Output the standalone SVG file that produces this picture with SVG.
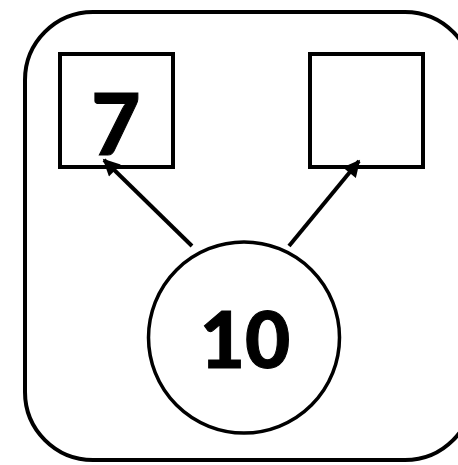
<svg xmlns="http://www.w3.org/2000/svg" width="458" height="465" viewBox="0 0 458 465">
<defs>
<style>
.frame{fill:#fff;stroke:#000;stroke-width:4}
.box{fill:#fff;stroke:#000;stroke-width:4}
.circ{fill:#fff;stroke:#000;stroke-width:3.5}
.lbl{font-family:Lato,"Liberation Sans",sans-serif;font-weight:900;fill:#000;stroke:#000;stroke-width:1;text-anchor:middle}
.edge{stroke:#000;stroke-width:4;fill:none;marker-end:url(#ah)}
</style>
<marker id="ah" viewBox="0 0 10 10" refX="9" refY="5" markerWidth="4.6" markerHeight="4.2" markerUnits="strokeWidth" orient="auto">
<path d="M0,0 L10,5 L0,10 Z" fill="#000"/>
</marker>
</defs>
<rect width="458" height="465" fill="#fff"/>
<rect class="frame" x="25" y="12" width="448" height="448" rx="68" ry="68"/>
<g id="node-left">
<rect class="box" x="60" y="54" width="113" height="113"/>
<text class="lbl" x="116" y="155" font-size="85">7</text>
</g>
<g id="node-right">
<rect class="box" x="310" y="54" width="113" height="113"/>
</g>
<g id="node-root">
<circle class="circ" cx="244" cy="337.5" r="95.5"/>
<text class="lbl" x="245" y="368" font-size="78">10</text>
</g>
<g id="connectors">
<line class="edge" x1="192" y1="246" x2="104" y2="160"/>
<line class="edge" x1="289" y1="246" x2="359" y2="161"/>
</g>
</svg>
